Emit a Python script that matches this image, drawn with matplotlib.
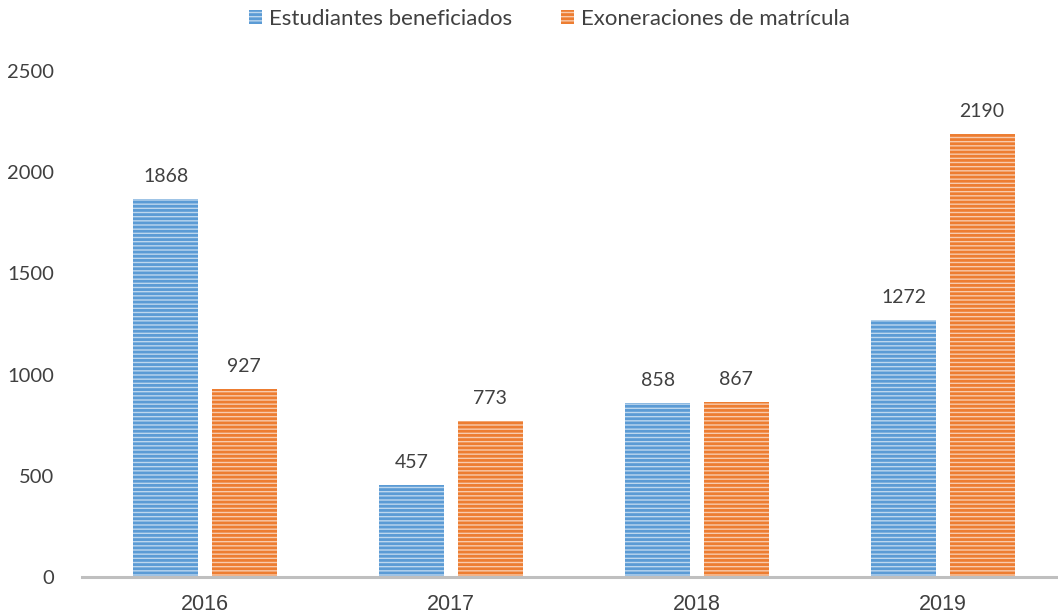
import numpy as np
import matplotlib.pyplot as plt

# Data
years = ['2016', '2017', '2018', '2019']
estudiantes = [1868, 457, 858, 1272]
exoneraciones = [927, 773, 867, 2190]
series_names = ['Estudiantes beneficiados', 'Exoneraciones de matrícula']

blue_dark = '#5B9BD5'
blue_light = '#BDD7EE'
orange_dark = '#ED7D31'
orange_light = '#F8CBAD'
text_color = '#404040'

plt.rcParams['hatch.linewidth'] = 2.0

fig = plt.figure(figsize=(10.58, 6.13), dpi=100)
ax = fig.add_axes([82 / 1058, 36 / 613, 984 / 1058, (577 - 71) / 613])

x = np.arange(len(years))
width = 0.264
offset = 0.159

b1 = ax.bar(x - offset, estudiantes, width, facecolor=blue_light, edgecolor=blue_dark,
            hatch='----', linewidth=0, label=series_names[0])
b2 = ax.bar(x + offset, exoneraciones, width, facecolor=orange_light, edgecolor=orange_dark,
            hatch='----', linewidth=0, label=series_names[1])

# value labels above bars
for bars in (b1, b2):
    for rect in bars:
        h = rect.get_height()
        ax.annotate(f'{int(h)}', (rect.get_x() + rect.get_width() / 2, h),
                    xytext=(0, 10), textcoords='offset points', ha='center', va='bottom',
                    fontsize=14, family='Lato', color=text_color)

ax.set_xlim(-0.5, 3.5)
ax.set_ylim(0, 2500)
ax.set_yticks([0, 500, 1000, 1500, 2000, 2500])
ax.set_xticks(x)
ax.set_xticklabels(years, family='Liberation Sans', fontsize=15.5, color=text_color)
for lbl in ax.get_yticklabels():
    lbl.set_family('Lato')
    lbl.set_fontsize(14.5)
    lbl.set_color(text_color)
ax.tick_params(axis='y', length=0, pad=20)
ax.tick_params(axis='x', length=0, pad=12)

for side in ['top', 'right', 'left']:
    ax.spines[side].set_visible(False)
ax.spines['bottom'].set_color('#BFBFBF')
ax.spines['bottom'].set_linewidth(2.2)
ax.patch.set_visible(False)

leg = fig.legend(handles=[b1, b2], loc='center', bbox_to_anchor=(549 / 1058, 1 - 19 / 613),
                 ncol=2, frameon=False, prop={'family': 'Lato', 'size': 16},
                 handlelength=0.6, handleheight=0.6, handletextpad=0.3, columnspacing=2.2)
for t in leg.get_texts():
    t.set_color(text_color)

fig.savefig('out.png', dpi=100)
